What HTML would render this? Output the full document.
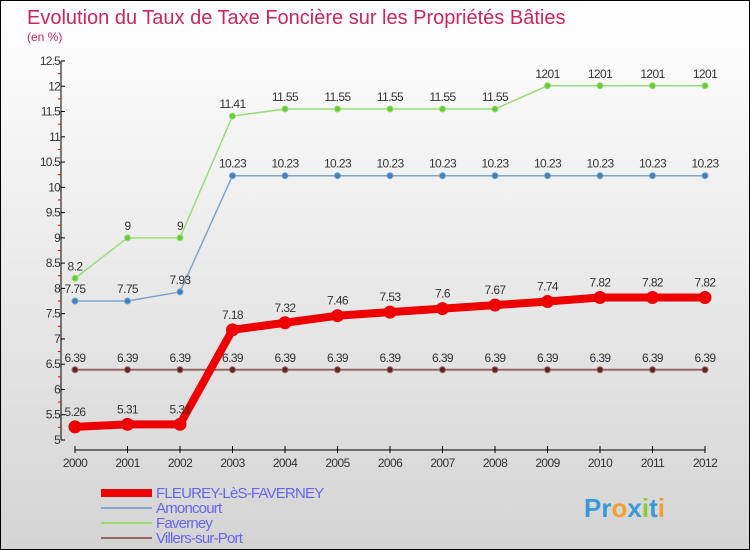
<!DOCTYPE html>
<html><head><meta charset="utf-8"><style>
body{margin:0}
#c{position:relative;width:748px;height:548px;border:1px solid #000;background:linear-gradient(#fff,#d4d4d4);font-family:"Liberation Sans",sans-serif;overflow:hidden}
</style></head><body>
<div id="c">
<svg id="s" width="748" height="548" xmlns="http://www.w3.org/2000/svg">
<text x="26" y="23" font-size="20" fill="#c8285a">Evolution du Taux de Taxe Foncière sur les Propriétés Bâties</text>
<text x="26" y="40" font-size="12" fill="#c8285a">(en %)</text>
<g id="g"></g>
</svg>
</div>
<script>
const years=["2000","2001","2002","2003","2004","2005","2006","2007","2008","2009","2010","2011","2012"];
const yTicks=[5,5.5,6,6.5,7,7.5,8,8.5,9,9.5,10,10.5,11,11.5,12,12.5];
const fleurey=[5.26,5.31,5.31,7.18,7.32,7.46,7.53,7.6,7.67,7.74,7.82,7.82,7.82];
const amoncourt=[7.75,7.75,7.93,10.23,10.23,10.23,10.23,10.23,10.23,10.23,10.23,10.23,10.23];
const faverney=[8.2,9,9,11.41,11.55,11.55,11.55,11.55,11.55,12.01,12.01,12.01,12.01];
const villers=[6.39,6.39,6.39,6.39,6.39,6.39,6.39,6.39,6.39,6.39,6.39,6.39,6.39];
const fLabels=["5.26","5.31","5.31","7.18","7.32","7.46","7.53","7.6","7.67","7.74","7.82","7.82","7.82"];
const aLabels=["7.75","7.75","7.93","10.23","10.23","10.23","10.23","10.23","10.23","10.23","10.23","10.23","10.23"];
const faLabels=["8.2","9","9","11.41","11.55","11.55","11.55","11.55","11.55","1201","1201","1201","1201"];
const vLabels=["6.39","6.39","6.39","6.39","6.39","6.39","6.39","6.39","6.39","6.39","6.39","6.39","6.39"];
const NS="http://www.w3.org/2000/svg";
const g=document.getElementById('g');
function X(i){return 74+52.5*i}
function Y(v){return 439-(v-5)*(379/7.5)}
function el(t,a,p){const e=document.createElementNS(NS,t);for(const k in a)e.setAttribute(k,a[k]);(p||g).appendChild(e);return e}
let e=el('line',{x1:60,y1:Y(12.5),x2:60,y2:Y(5),stroke:'#000'});


e=el('line',{x1:74,y1:449,x2:X(12),y2:449,stroke:'#000'});


yTicks.forEach((v,i)=>{
 el('line',{x1:60,y1:Y(v),x2:64,y2:Y(v),stroke:'#000'});
 if(i<yTicks.length-1)el('line',{x1:57,y1:Y(v+0.25),x2:60,y2:Y(v+0.25),stroke:'#e00'});
 const t=el('text',{x:59,y:Y(v)+4,'font-size':12,'text-anchor':'end',fill:'#333','letter-spacing':'-0.8'});
 t.textContent=String(v);
 
 
});
years.forEach((y,i)=>{
 el('line',{x1:X(i),y1:445,x2:X(i),y2:452,stroke:'#000'});
 const t=el('text',{x:X(i),y:466,'font-size':12,'text-anchor':'middle',fill:'#333','letter-spacing':'-0.6'});
 t.textContent=y;
 
 
});
function series(vals,labels,col,dot,w,r,name){
 const pts=vals.map((v,i)=>X(i)+','+Y(v)).join(' ');
 const p=el('polyline',{points:pts,fill:'none',stroke:col,'stroke-width':w,'stroke-linejoin':'round'});
 
 
 vals.forEach((v,i)=>{
  const c=el('circle',{cx:X(i),cy:Y(v),r:r,fill:dot,stroke:col,'stroke-width':1});
  
  
  const t=el('text',{x:X(i),y:Y(v)-(r+5),'font-size':12,'text-anchor':'middle',fill:'#333','letter-spacing':'-0.6'});
  t.textContent=labels[i];
  
  
 });
}
series(villers,vLabels,'#996666','#662222',2,3,'villers-sur-port');
series(amoncourt,aLabels,'#7aa6cc','#3b80c0',1.5,3,'amoncourt');
series(faverney,faLabels,'#99dd77','#66cc33',1.5,3,'faverney');
series(fleurey,fLabels,'#ee0000','#ee0000',8,6,'fleurey');
const leg=[['FLEUREY-LèS-FAVERNEY','#ee0000',8],['Amoncourt','#88aacc',2],['Faverney','#99dd77',2],['Villers-sur-Port','#996666',2]];
leg.forEach((l,i)=>{
 const y=492+15*i;
 el('line',{x1:100,y1:y,x2:151,y2:y,stroke:l[1],'stroke-width':l[2]});
 const t=el('text',{x:155,y:y+5,'font-size':15,fill:'#6666ee','letter-spacing':'-0.8'});
 t.textContent=l[0];
 
 
});
const lg=el('text',{x:583,y:516,'font-size':26,'font-weight':'bold',fill:'#3a9ad9'});


const letters=[['P','#3a9ad9'],['r','#3a9ad9'],['o','#f0a030'],['x','#3a9ad9'],['i','#88cc33'],['t','#3a9ad9'],['i','#f0a030']];
letters.forEach(l=>{const s=el('tspan',{fill:l[1]},lg);s.textContent=l[0];});
</script>
</body></html>
